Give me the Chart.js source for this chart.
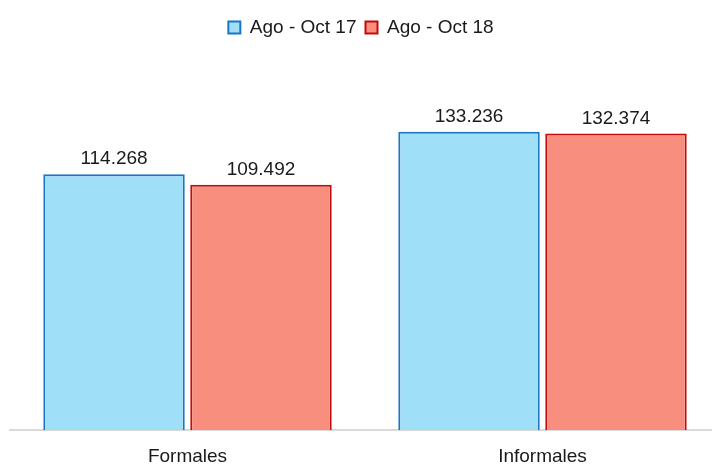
<!DOCTYPE html>
<html>
<head>
<meta charset="utf-8">
<script src="https://cdn.jsdelivr.net/npm/chart.js@4.4.1/dist/chart.umd.min.js"></script>
<style>
html,body{margin:0;padding:0;background:#fff;}
#wrap{width:712px;height:468px;position:relative;}
</style>
</head>
<body>
<div id="wrap"><canvas id="c" width="712" height="468"></canvas></div>
<script>
const categories = ["Formales", "Informales"];
const seriesNames = ["Ago - Oct 17", "Ago - Oct 18"];
const series17 = [114.268, 133.236];
const series18 = [109.492, 132.374];

const FONT = "'Liberation Sans', Arial, sans-serif";

const labelPlugin = {
  id: 'valLabels',
  afterDatasetsDraw(chart) {
    const ctx = chart.ctx;
    ctx.save();
    ctx.font = "19px " + FONT;
    ctx.fillStyle = '#1a1a1a';
    ctx.textAlign = 'center';
    ctx.textBaseline = 'alphabetic';
    chart.data.datasets.forEach((ds, i) => {
      chart.getDatasetMeta(i).data.forEach((bar, j) => {
        ctx.fillText(ds.data[j].toFixed(3), bar.x, bar.y - 10);
      });
    });
    ctx.restore();
  }
};

// widen the category scale a little past the right edge, as in the reference
const widenX = {
  id: 'widenX',
  afterLayout(chart) {
    const s = chart.scales.x;
    s.left = 10;
    s.right = 720;
    s.width = s.right - s.left;
    s.configure();
  }
};

new Chart(document.getElementById('c'), {
  type: 'bar',
  data: {
    labels: categories,
    datasets: [
      { label: seriesNames[0], data: series17, backgroundColor: '#9FDFF8', borderColor: '#1B75C6', borderWidth: 2, borderSkipped: 'bottom', categoryPercentage: 0.828, barPercentage: 0.9626 },
      { label: seriesNames[1], data: series18, backgroundColor: '#F88E7E', borderColor: '#C40A0A', borderWidth: 2, borderSkipped: 'bottom', categoryPercentage: 0.828, barPercentage: 0.9626 }
    ]
  },
  options: {
    responsive: false,
    animation: false,
    devicePixelRatio: 1,
    layout: { padding: { left: 10, right: 0, top: 9, bottom: -7 } },
    plugins: {
      legend: {
        display: true,
        position: 'top',
        labels: {
          boxWidth: 12, boxHeight: 12,
          font: { family: FONT, size: 19 },
          color: '#1a1a1a',
          padding: 9
        }
      },
      tooltip: { enabled: false }
    },
    scales: {
      x: {
        grid: { display: false },
        border: { color: '#d9d9d9', width: 2 },
        ticks: { font: { family: FONT, size: 19 }, color: '#1a1a1a', padding: 7 }
      },
      y: { display: false, min: 0, max: 171 }
    }
  },
  plugins: [labelPlugin, widenX]
});
</script>
</body>
</html>
